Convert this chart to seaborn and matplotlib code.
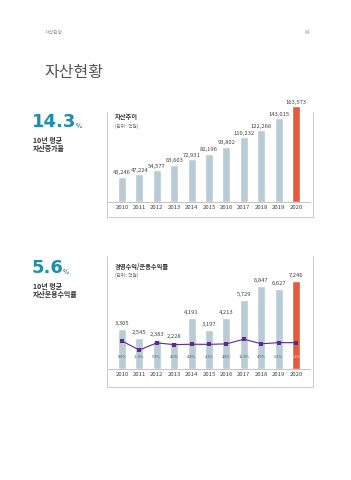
import matplotlib
matplotlib.use("Agg")
import matplotlib.pyplot as plt
from matplotlib.lines import Line2D
import seaborn as sns
import numpy as np

sns.set_style("white")
plt.rcParams['font.family'] = ['Noto Sans CJK KR', 'DejaVu Sans']

years = ['2010', '2011', '2012', '2013', '2014', '2015', '2016', '2017', '2018', '2019', '2020']
assets = [43246, 47224, 54577, 63603, 72931, 82196, 93802, 110232, 122268, 143015, 163573]
income = [3305, 2545, 2383, 2228, 4191, 3197, 4213, 5729, 6847, 6627, 7246]
rates = [8.0, -2.0, 5.9, 4.0, 4.4, 4.3, 4.8, 10.0, 4.9, 6.2, 6.1]

BAR = '#b9ccd6'
HIGHLIGHT = '#e55b3c'
LINE = '#5e2a8c'
TEAL = '#1f8ea8'
W, H = 351, 480

fig = plt.figure(figsize=(W / 100, H / 100), dpi=100)


def px_axes(left, top, right, bottom):
    return fig.add_axes([left / W, 1 - bottom / H, (right - left) / W, (bottom - top) / H])


def ftext(x, y, s, **kw):
    return fig.text(x / W, 1 - y / H, s, **kw)


def fline(xs, ys):
    fig.add_artist(Line2D([x / W for x in xs], [1 - y / H for y in ys], color='#cfcfcf', lw=0.8))


def big_number(x, y, num):
    # big teal figure with a small % right after it
    t = ftext(x, y, num, fontsize=13, color=TEAL, fontweight='bold', va='center',
              family='DejaVu Sans')
    fig.canvas.draw()
    bb = t.get_window_extent()
    ftext(bb.x1 - 1, y + 3, '%', fontsize=4.5, color=TEAL, fontweight='bold', va='center')


colors = [BAR] * (len(years) - 1) + [HIGHLIGHT]

# page header
ftext(45, 32, '자산현황', fontsize=3.5, color='#999999', va='center')
ftext(310, 32, '84', fontsize=3.5, color='#999999', va='center', ha='right')
ftext(44, 72, '자산현황', fontsize=11.5, color='#555555', va='center')

# panel 1 side text
big_number(32, 122, '14.3')
ftext(33, 141, '10년 평균', fontsize=5, color='#333333', fontweight='bold', va='center')
ftext(33, 149, '자산증가율', fontsize=5, color='#333333', fontweight='bold', va='center')
fline([107, 107], [112, 217])
fline([107, 313], [217, 217])
fline([313, 313], [112, 217])

# chart 1
ax1 = px_axes(108, 100, 310, 202)
sns.barplot(x=years, y=assets, hue=years, palette=colors, legend=False,
            width=0.45, ax=ax1, saturation=1)
ax1.set_xlim(-0.8, 10.8)
ax1.set_ylim(0, 173800)
for i, v in enumerate(assets):
    ax1.text(i, v + 2500, f'{v:,}', ha='center', va='bottom', fontsize=4.2, color='#444444')
ax1.set_yticks([])
ax1.set_xlabel('')
ax1.set_ylabel('')
ax1.tick_params(axis='x', length=0, labelsize=4.3, pad=2, colors='#444444')
for s in ['top', 'left', 'right']:
    ax1.spines[s].set_visible(False)
ax1.spines['bottom'].set_color('#bbbbbb')
ax1.spines['bottom'].set_linewidth(0.6)
ax1.patch.set_alpha(0)
ftext(115, 117, '자산추이', fontsize=4.5, color='#333333', fontweight='bold', va='center')
ftext(115, 126, '(단위 : 억원)', fontsize=3.3, color='#666666', va='center')

# panel 2 side text
big_number(32, 268, '5.6')
ftext(33, 286, '10년 평균', fontsize=5, color='#333333', fontweight='bold', va='center')
ftext(33, 294, '자산운용수익률', fontsize=5, color='#333333', fontweight='bold', va='center')
fline([107, 107], [256, 387])
fline([107, 313], [387, 387])
fline([313, 313], [256, 387])

# chart 2
ax2 = px_axes(108, 260, 310, 369)
sns.barplot(x=years, y=income, hue=years, palette=colors, legend=False,
            width=0.45, ax=ax2, saturation=1)
ax2.set_xlim(-0.8, 10.8)
ax2.set_ylim(0, 9000)
for i, v in enumerate(income):
    ax2.text(i, v + 250, f'{v:,}', ha='center', va='bottom', fontsize=4.2, color='#444444')
ax2.set_yticks([])
ax2.set_xlabel('')
ax2.set_ylabel('')
ax2.tick_params(axis='x', length=0, labelsize=4.3, pad=2, colors='#444444')
for s in ['top', 'left', 'right']:
    ax2.spines[s].set_visible(False)
ax2.spines['bottom'].set_color('#bbbbbb')
ax2.spines['bottom'].set_linewidth(0.6)
ax2.patch.set_alpha(0)

ax3 = ax2.twinx()
sns.lineplot(x=np.arange(len(years)), y=rates, color=LINE, lw=0.8, marker='s',
             markersize=3, markeredgewidth=0, ax=ax3)
ax3.set_ylim(-23.1, 98)
ax3.set_xlim(-0.8, 10.8)
ax3.set_yticks([])
ax3.set_ylabel('')
for s in ['top', 'left', 'right', 'bottom']:
    ax3.spines[s].set_visible(False)
for i, r in enumerate(rates):
    ax3.text(i, 0.11, f'{r:.1f}%', transform=ax3.get_xaxis_transform(), ha='center',
             va='center', fontsize=2.8, color='#ffffff' if i == 10 else '#555555')

ftext(115, 266, '경영수익/운용수익률', fontsize=4.5, color='#333333', fontweight='bold', va='center')
ftext(115, 275, '(단위 : 억원)', fontsize=3.3, color='#666666', va='center')

fig.savefig('out.png', dpi=100)
